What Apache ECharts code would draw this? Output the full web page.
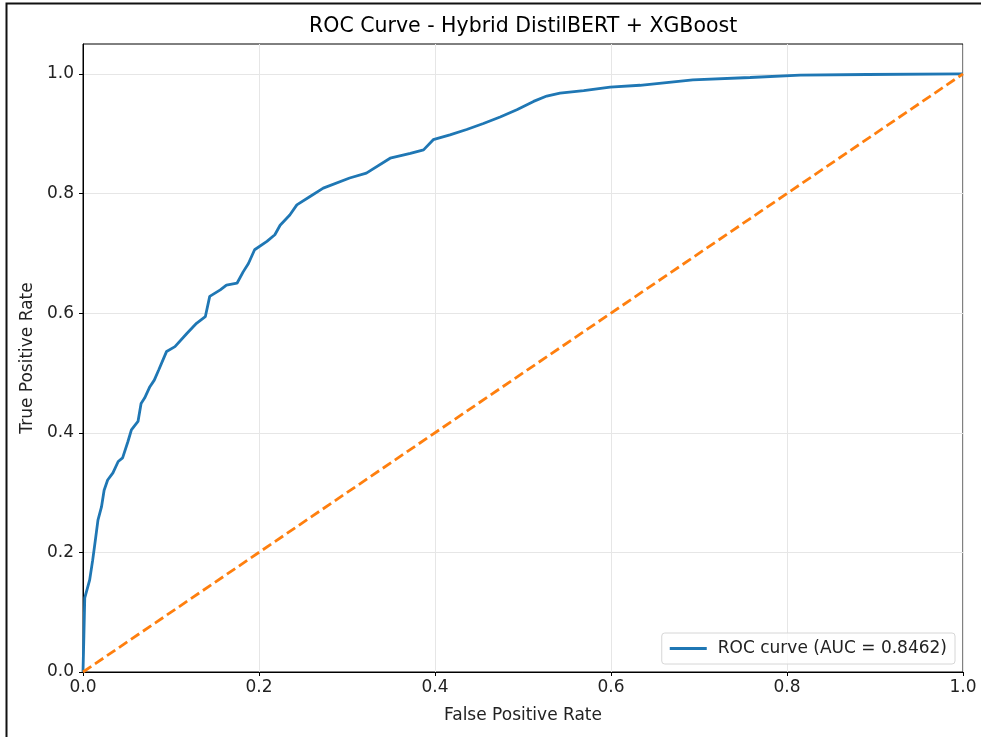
<!DOCTYPE html>
<html>
<head>
<meta charset="utf-8">
<script src="https://cdn.jsdelivr.net/npm/echarts@6/dist/echarts.min.js"></script>
<style>
  html, body { margin: 0; padding: 0; background: #fff; }
  #chart { width: 981px; height: 737px; }
</style>
</head>
<body>
<div id="chart"></div>
<script>
  // ROC points
  var fpr = [0, 0.001, 0.002, 0.0076, 0.011, 0.014, 0.017, 0.021, 0.024, 0.028, 0.034, 0.040, 0.045, 0.051, 0.055, 0.0625,
             0.066, 0.070, 0.076, 0.081, 0.086, 0.095, 0.1045, 0.118, 0.129, 0.139, 0.144, 0.156, 0.163, 0.175, 0.182, 0.188,
             0.195, 0.209, 0.218, 0.224, 0.235, 0.243, 0.258, 0.273, 0.303, 0.322, 0.349, 0.372, 0.387, 0.398, 0.417, 0.436,
             0.455, 0.474, 0.493, 0.512, 0.527, 0.542, 0.569, 0.599, 0.633, 0.693, 0.758, 0.815, 0.891, 1.0];
  var tpr = [0, 0.06, 0.124, 0.154, 0.187, 0.22, 0.254, 0.276, 0.304, 0.321, 0.333, 0.352, 0.358, 0.385, 0.405, 0.419,
             0.449, 0.458, 0.477, 0.488, 0.505, 0.536, 0.544, 0.566, 0.583, 0.594, 0.628, 0.639, 0.647, 0.65, 0.669, 0.683,
             0.706, 0.72, 0.731, 0.747, 0.764, 0.781, 0.795, 0.809, 0.826, 0.834, 0.859, 0.867, 0.873, 0.890, 0.898, 0.907,
             0.917, 0.928, 0.940, 0.954, 0.963, 0.968, 0.972, 0.978, 0.981, 0.990, 0.994, 0.998, 0.999, 1.0];
  var chanceX = [0, 1];
  var chanceY = [0, 1];
  var tickVals = [0, 0.2, 0.4, 0.6, 0.8, 1.0];
  var rocName = 'ROC curve (AUC = 0.8462)';

  var rocData = [];
  for (var i = 0; i < fpr.length; i++) {
    rocData.push([fpr[i], tpr[i]]);
  }
  var chanceData = [];
  for (var j = 0; j < chanceX.length; j++) {
    chanceData.push([chanceX[j], chanceY[j]]);
  }

  var font = 'DejaVu Sans';
  var myChart = echarts.init(document.getElementById('chart'));
  var option = {
    animation: false,
    textStyle: { fontFamily: font },
    title: {
      text: 'ROC Curve - Hybrid DistilBERT + XGBoost',
      left: 309,
      top: 16,
      padding: 0,
      textStyle: { fontFamily: font, fontSize: 20.5, fontWeight: 'normal', color: '#000' }
    },
    graphic: [{
      type: 'rect',
      shape: { x: 6.5, y: 3.5, width: 1000, height: 800 },
      style: { fill: 'none', stroke: '#111', lineWidth: 2 },
      silent: true
    }],
    grid: {
      left: 83, top: 44, right: 18, bottom: 65,
      show: true, borderColor: '#000', borderWidth: 1, backgroundColor: 'transparent'
    },
    legend: {
      data: [rocName],
      right: 26, top: 633,
      icon: 'rect', itemWidth: 37, itemHeight: 3, itemGap: 10,
      padding: [7, 8, 7, 8],
      borderColor: '#d6d6d6', borderWidth: 1, borderRadius: 3,
      backgroundColor: 'rgba(255,255,255,0.8)',
      textStyle: { fontFamily: font, fontSize: 17, color: '#222', padding: [0, 0, 0, 6] }
    },
    xAxis: {
      type: 'value', min: 0, max: 1, interval: 0.2,
      name: 'False Positive Rate', nameLocation: 'middle', nameGap: 35,
      nameTextStyle: { fontFamily: font, fontSize: 17, color: '#222' },
      axisLine: { show: true, lineStyle: { color: '#000', width: 1 } },
      axisTick: { show: true, length: 4, lineStyle: { color: '#000' } },
      axisLabel: { fontSize: 17, color: '#222', margin: 7, formatter: function (v) { return v.toFixed(1); } },
      splitLine: { show: true, lineStyle: { color: '#e6e6e6', width: 1 } }
    },
    yAxis: {
      type: 'value', min: 0, max: 1.05, interval: 0.2,
      name: 'True Positive Rate', nameLocation: 'middle', nameGap: 47,
      nameTextStyle: { fontFamily: font, fontSize: 17, color: '#222' },
      axisLine: { show: true, lineStyle: { color: '#000', width: 1 } },
      axisTick: { show: true, length: 4, lineStyle: { color: '#000' }, customValues: tickVals },
      axisLabel: {
        fontSize: 17, color: '#222', margin: 9, customValues: tickVals,
        formatter: function (v) { return v > 1.0001 ? '' : v.toFixed(1); }
      },
      splitLine: { show: true, lineStyle: { color: '#e6e6e6', width: 1 } }
    },
    series: [
      {
        name: rocName,
        type: 'line',
        data: rocData,
        showSymbol: false,
        lineStyle: { color: '#1f77b4', width: 2.8 },
        itemStyle: { color: '#1f77b4' },
        z: 3
      },
      {
        name: 'chance',
        type: 'line',
        data: chanceData,
        showSymbol: false,
        lineStyle: { color: '#ff7f0e', width: 2.8, type: [10, 4.5] },
        itemStyle: { color: '#ff7f0e' },
        z: 4
      }
    ]
  };
  myChart.setOption(option);
</script>
</body>
</html>
